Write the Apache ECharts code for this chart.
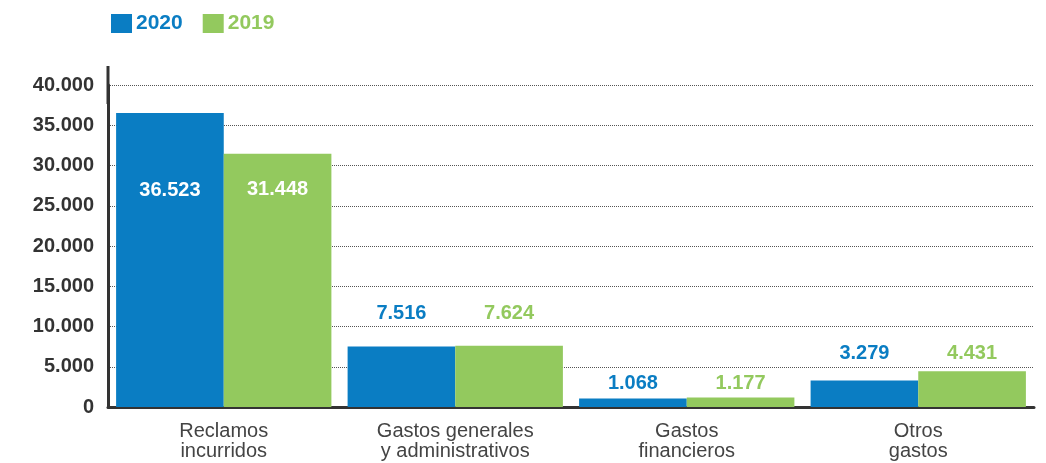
<!DOCTYPE html>
<html>
<head>
<meta charset="utf-8">
<script src="https://cdn.jsdelivr.net/npm/echarts@6/dist/echarts.min.js"></script>
<style>
  html, body { margin: 0; padding: 0; background: #fff; }
  #main { width: 1046px; height: 463px; }
</style>
</head>
<body>
<div id="main"></div>
<script>
  // data
  var categories = ['Reclamos\nincurridos', 'Gastos generales\ny administrativos', 'Gastos\nfinancieros', 'Otros\ngastos']
  var values2020 = [36523, 7516, 1068, 3279]
  var values2019 = [31448, 7624, 1177, 4431]
  var yTicks = [0, 5000, 10000, 15000, 20000, 25000, 30000, 35000, 40000]

  var blue = '#0a7dc3'
  var green = '#93c95e'

  // label placement per bar (first group sits inside the bar)
  var labelDist2020 = [77, 23, 5, 17]
  var labelDist2019 = [36, 22, 4, 8]

  function fmt (v) {
      return String(v).replace(/\B(?=(\d{3})+(?!\d))/g, '.')
  }

  function buildData (values, dists, color) {
      return values.map(function (v, i) {
          if (i === 0) {
              return {
                  value: v,
                  label: {
                      position: ['50%', dists[i]],
                      align: 'center',
                      verticalAlign: 'middle',
                      color: '#fff'
                  }
              }
          }
          return { value: v, label: { position: 'top', distance: dists[i], color: color } }
      })
  }

  var labelBase = {
      show: true,
      fontFamily: 'Liberation Sans',
      fontWeight: 'bold',
      fontSize: 20,
      formatter: function (p) { return fmt(p.value) }
  }

  var chart = echarts.init(document.getElementById('main'))
  var option = {
      animation: false,
      legend: {
          left: 106,
          top: 8,
          itemWidth: 21,
          itemHeight: 19,
          itemGap: 20,
          icon: 'rect',
          textStyle: { fontFamily: 'Liberation Sans', fontWeight: 'bold', fontSize: 21, padding: [0, 0, 0, -1] },
          data: [
              { name: '2020', textStyle: { color: blue } },
              { name: '2019', textStyle: { color: green } }
          ]
      },
      grid: {
          left: 108,
          right: 12,
          top: 85,
          bottom: 56
      },
      xAxis: {
          type: 'category',
          data: categories,
          axisLine: { lineStyle: { color: '#333', width: 3 } },
          axisTick: { show: false },
          axisLabel: {
              color: '#444',
              fontFamily: 'Liberation Sans',
              fontSize: 20,
              lineHeight: 20,
              margin: 14
          }
      },
      yAxis: {
          type: 'value',
          min: yTicks[0],
          max: yTicks[yTicks.length - 1],
          interval: yTicks[1] - yTicks[0],
          axisLine: {
              show: true,
              symbol: ['none', 'rect'],
              symbolSize: [3, 38],
              lineStyle: { color: '#333', width: 3 }
          },
          axisTick: { show: false },
          axisLabel: {
              color: '#333',
              fontFamily: 'Liberation Sans',
              fontWeight: 'bold',
              fontSize: 20,
              margin: 14,
              formatter: function (v) { return fmt(v) }
          },
          splitLine: { lineStyle: { color: '#555', type: 'dotted', width: 1 } }
      },
      series: [
          {
              name: '2020',
              type: 'bar',
              barGap: '0%',
              barCategoryGap: '7%',
              itemStyle: { color: blue },
              label: labelBase,
              data: buildData(values2020, labelDist2020, blue)
          },
          {
              name: '2019',
              type: 'bar',
              itemStyle: { color: green },
              label: labelBase,
              data: buildData(values2019, labelDist2019, green)
          }
      ]
  }
  chart.setOption(option)
</script>
</body>
</html>
